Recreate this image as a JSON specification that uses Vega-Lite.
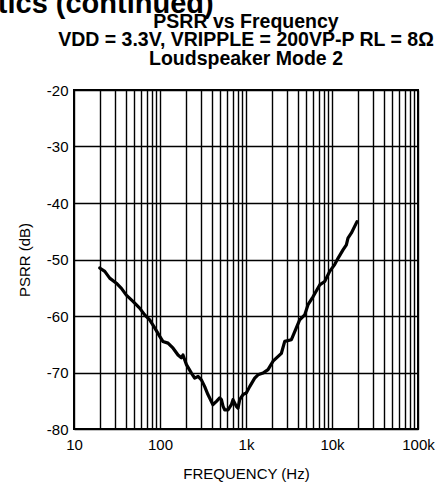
{
  "$schema": "https://vega.github.io/schema/vega-lite/v6.json",
  "width": 344,
  "height": 339,
  "autosize": {"type": "none"},
  "padding": {"left": 74, "top": 90, "right": 21, "bottom": 53},
  "background": "white",
  "config": {
    "font": "Liberation Sans",
    "view": {"stroke": "black", "strokeWidth": 2}
  },
  "layer": [
    {
      "data": {
        "values": [
          {"f": 19.9, "psrr": -51.5},
          {"f": 22.8, "psrr": -52.1},
          {"f": 26, "psrr": -53.3},
          {"f": 31.1, "psrr": -54.2},
          {"f": 35.6, "psrr": -55.1},
          {"f": 40.6, "psrr": -56.3},
          {"f": 48.5, "psrr": -57.4},
          {"f": 58, "psrr": -58.6},
          {"f": 66.4, "psrr": -59.8},
          {"f": 75.9, "psrr": -60.7},
          {"f": 86.8, "psrr": -62.1},
          {"f": 99.3, "psrr": -63.6},
          {"f": 108, "psrr": -64.5},
          {"f": 124, "psrr": -64.8},
          {"f": 142, "psrr": -65.7},
          {"f": 162, "psrr": -66.9},
          {"f": 177, "psrr": -67.4},
          {"f": 185, "psrr": -66.9},
          {"f": 203, "psrr": -68.6},
          {"f": 232, "psrr": -70.1},
          {"f": 253, "psrr": -71.0},
          {"f": 277, "psrr": -70.7},
          {"f": 303, "psrr": -71.3},
          {"f": 331, "psrr": -72.5},
          {"f": 361, "psrr": -73.9},
          {"f": 413, "psrr": -75.7},
          {"f": 453, "psrr": -75.1},
          {"f": 494, "psrr": -74.5},
          {"f": 518, "psrr": -74.8},
          {"f": 541, "psrr": -76.0},
          {"f": 565, "psrr": -76.6},
          {"f": 618, "psrr": -76.6},
          {"f": 676, "psrr": -75.7},
          {"f": 706, "psrr": -74.8},
          {"f": 773, "psrr": -76.0},
          {"f": 807, "psrr": -76.3},
          {"f": 845, "psrr": -74.8},
          {"f": 923, "psrr": -73.9},
          {"f": 1011, "psrr": -73.6},
          {"f": 1104, "psrr": -72.5},
          {"f": 1262, "psrr": -71.0},
          {"f": 1380, "psrr": -70.4},
          {"f": 1578, "psrr": -70.1},
          {"f": 1803, "psrr": -69.5},
          {"f": 2061, "psrr": -68.0},
          {"f": 2580, "psrr": -66.6},
          {"f": 2820, "psrr": -64.5},
          {"f": 3373, "psrr": -64.2},
          {"f": 4207, "psrr": -60.7},
          {"f": 4817, "psrr": -59.8},
          {"f": 5262, "psrr": -58.0},
          {"f": 6012, "psrr": -56.6},
          {"f": 7194, "psrr": -54.5},
          {"f": 8222, "psrr": -53.9},
          {"f": 9397, "psrr": -52.1},
          {"f": 10740, "psrr": -50.9},
          {"f": 11740, "psrr": -49.8},
          {"f": 13430, "psrr": -48.3},
          {"f": 14690, "psrr": -47.4},
          {"f": 15340, "psrr": -46.2},
          {"f": 16810, "psrr": -45.3},
          {"f": 19530, "psrr": -43.3}
        ]
      },
      "mark": {"type": "line", "color": "black", "strokeWidth": 3.2, "strokeJoin": "round", "strokeCap": "round"},
      "encoding": {
        "x": {
          "field": "f",
          "type": "quantitative",
          "scale": {"type": "log", "domain": [10, 100000]},
          "axis": {
            "values": [10, 20, 30, 40, 50, 60, 70, 80, 90, 100, 200, 300, 400, 500, 600, 700, 800, 900, 1000, 2000, 3000, 4000, 5000, 6000, 7000, 8000, 9000, 10000, 20000, 30000, 40000, 50000, 60000, 70000, 80000, 90000, 100000],
            "labelExpr": "datum.value == 10 ? '10' : datum.value == 100 ? '100' : datum.value == 1000 ? '1k' : datum.value == 10000 ? '10k' : datum.value == 100000 ? '100k' : ''",
            "grid": true,
            "gridColor": "black",
            "gridOpacity": 1,
            "gridWidth": 1.4,
            "ticks": false,
            "domain": false,
            "labelFlush": false,
            "labelOverlap": false,
            "labelFontSize": 15,
            "labelColor": "black",
            "labelPadding": 8,
            "title": "FREQUENCY (Hz)",
            "titleFontSize": 15,
            "titleFontWeight": "normal",
            "titleColor": "black",
            "titlePadding": 14
          }
        },
        "y": {
          "field": "psrr",
          "type": "quantitative",
          "scale": {"domain": [-80, -20], "nice": false, "zero": false},
          "axis": {
            "values": [-80, -70, -60, -50, -40, -30, -20],
            "labelExpr": "'' + datum.value",
            "grid": true,
            "gridColor": "black",
            "gridOpacity": 1,
            "gridWidth": 1.4,
            "ticks": false,
            "domain": false,
            "labelFontSize": 15,
            "labelColor": "black",
            "labelPadding": 6,
            "title": "PSRR (dB)",
            "titleFontSize": 15,
            "titleFontWeight": "normal",
            "titleColor": "black",
            "titlePadding": 14
          }
        }
      }
    },
    {
      "data": {"values": [{"label": "tics (continued)"}]},
      "mark": {"type": "text", "align": "left", "baseline": "alphabetic", "fontSize": 29, "fontWeight": "bold", "font": "Liberation Sans", "color": "black", "clip": false},
      "encoding": {
        "text": {"field": "label"},
        "x": {"datum": 1.3},
        "y": {"datum": -6.3}
      }
    },
    {
      "data": {"values": [{"label": "title"}]},
      "mark": {
        "type": "text",
        "text": ["PSRR vs Frequency", "VDD = 3.3V, VRIPPLE = 200VP-P RL = 8Ω", "Loudspeaker Mode 2"],
        "align": "center",
        "baseline": "alphabetic",
        "lineHeight": 18.5,
        "fontSize": 19.5,
        "fontWeight": "bold",
        "font": "Liberation Sans",
        "color": "black",
        "clip": false
      },
      "encoding": {
        "x": {"datum": 1000},
        "y": {"datum": -9.0}
      }
    }
  ]
}
